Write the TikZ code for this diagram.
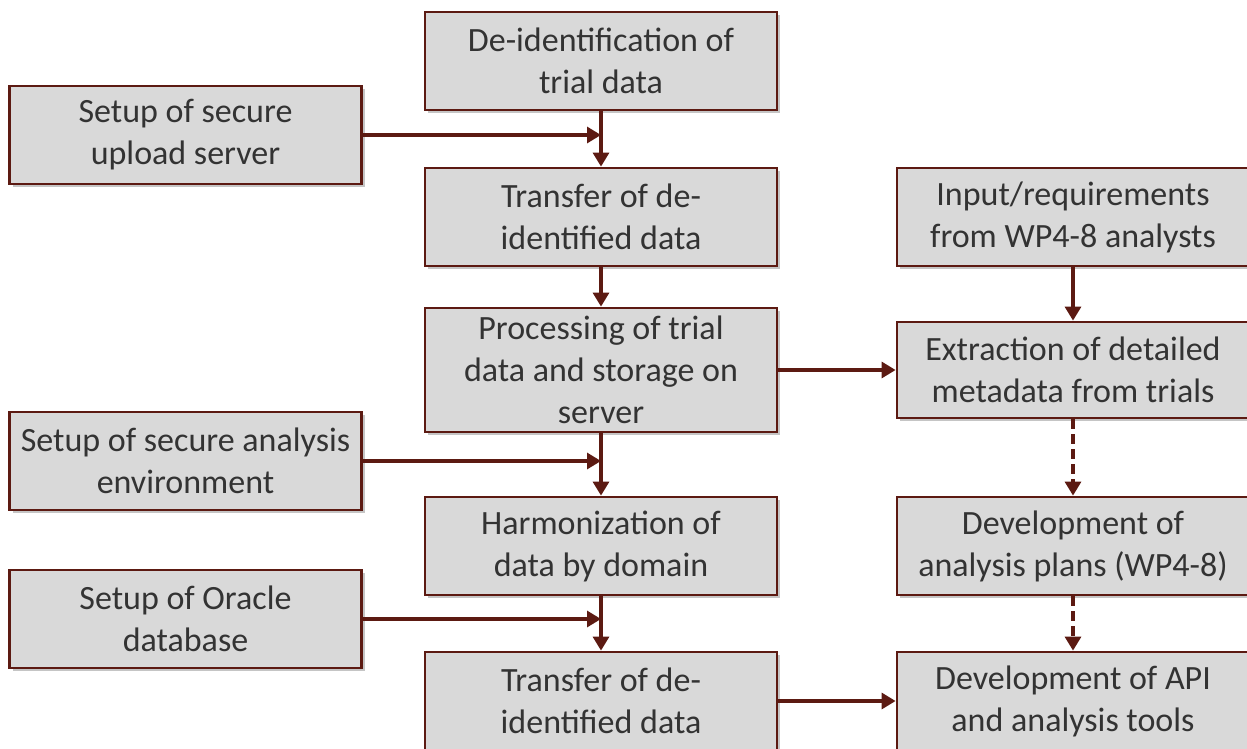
\documentclass[tikz,border=0pt]{standalone}
\usepackage{fontspec}
\setmainfont{Carlito}
\usetikzlibrary{arrows.meta,shadows}
\definecolor{edge}{HTML}{5C1A12}
\definecolor{boxfill}{HTML}{D9D9D9}
\definecolor{txt}{HTML}{333333}
\tikzset{
  box/.style={draw=edge, line width=2.8pt, fill=boxfill, text=txt, align=center,
    minimum width=352pt, minimum height=98pt, inner sep=2pt,
    font=\fontsize{34}{42}\selectfont,
    drop shadow={shadow xshift=3pt, shadow yshift=-3pt, fill=black!45, opacity=0.5}},
  conn/.style={draw=edge, line width=3.2pt, -{Triangle[width=16pt,length=14pt]}},
  dconn/.style={conn, dash pattern=on 10pt off 5pt}
}
\begin{document}
\begin{tikzpicture}[x=1pt,y=-1pt]
\useasboundingbox (0,0) rectangle (1247,749);
\node[box] (deid) at (601,61) {De-identification of\\trial data};
\node[box] (upload) at (185.5,135) {Setup of secure\\upload server};
\node[box] (tr1) at (601,217) {Transfer of de-\\identified data};
\node[box] (input) at (1073,217) {Input/requirements\\from WP4-8 analysts};
\node[box, minimum height=124pt] (proc) at (601,370) {Processing of trial\\data and storage on\\server};
\node[box, minimum height=96pt] (extr) at (1073,370) {Extraction of detailed\\metadata from trials};
\node[box] (analysis) at (185.5,461) {Setup of secure analysis\\environment};
\node[box] (harm) at (601,546) {Harmonization of\\data by domain};
\node[box] (plans) at (1073,546) {Development of\\analysis plans (WP4-8)};
\node[box] (oracle) at (185.5,619) {Setup of Oracle\\database};
\node[box] (tr2) at (601,701) {Transfer of de-\\identified data};
\node[box] (api) at (1073,701) {Development of API\\and analysis tools};
\coordinate (j1) at (deid.south |- upload.east);
\coordinate (j2) at (proc.south |- analysis.east);
\coordinate (j3) at (harm.south |- oracle.east);
\draw[conn] (deid) -- (tr1);
\draw[conn] (upload.east) -- (j1);
\draw[conn] (tr1) -- (proc);
\draw[conn] (proc) -- (harm);
\draw[conn] (analysis.east) -- (j2);
\draw[conn] (harm) -- (tr2);
\draw[conn] (oracle.east) -- (j3);
\draw[conn] (proc) -- (extr);
\draw[conn] (tr2) -- (api);
\draw[conn] (input) -- (extr);
\draw[dconn] (extr) -- (plans);
\draw[dconn] (plans) -- (api);
\end{tikzpicture}
\end{document}
